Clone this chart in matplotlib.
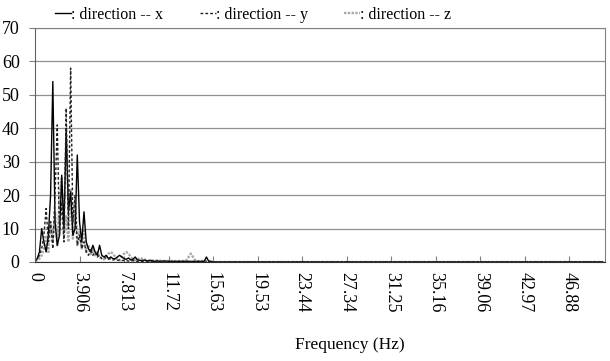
import matplotlib
matplotlib.use("Agg")
import matplotlib.pyplot as plt
import numpy as np

plt.rcParams['font.family'] = ['Liberation Serif', 'DejaVu Serif']

# frequency resolution (Hz per bin)
df = 50.0 / 256
n_bins = 256

# spectra (first bins; the rest are ~0)
amp_x = [0.5, 1, 3, 10, 6, 3, 8, 20, 54, 12, 5, 8, 26, 10, 40, 15, 21, 8, 10, 32,
         12, 6, 15, 6, 4, 3, 5, 3, 2, 5, 2, 1.5, 2, 1, 1.5, 1, 1, 1.5, 2, 1.5,
         1, 0.8, 1.2, 0.6, 0.8, 1.5, 0.6, 0.5, 0.4, 0.6, 0.4, 0.3, 0.5, 0.3, 0.2, 0.3, 0.2, 0.2, 0.3, 0.2,
         0.2, 0.2, 0.2, 0.2, 0.2, 0.2, 0.2, 0.2, 0.2, 0.2, 0.2, 0.2, 0.2, 0.2, 0.2, 0.2, 0.2, 1.5, 0.2, 0.2]
amp_y = [0.3, 0.8, 2, 4, 8, 16, 6, 12, 4, 20, 41, 8, 18, 6, 46, 10, 58, 12, 20, 5,
         8, 4, 6, 3, 2, 4, 2, 3, 1.5, 2, 1, 1.5, 1, 0.8, 1, 0.6, 0.8, 0.5, 0.6, 0.4,
         0.5, 0.4, 0.3, 0.3, 0.4, 0.3, 0.2, 0.3, 0.2, 0.2, 0.2, 0.2, 0.2, 0.2, 0.2, 0.2, 0.2, 0.2, 0.2, 0.2]
amp_z = [0.3, 0.5, 1, 2, 4, 8, 3, 12, 6, 15, 5, 18, 25, 8, 14, 6, 22, 7, 18, 5,
         9, 4, 10, 3, 5, 2, 4, 2, 3, 1.5, 1, 0.8, 1.5, 2.5, 3, 2.5, 1.5, 0.8, 0.5, 1.5,
         2.5, 3, 2.5, 1.5, 0.8, 0.5, 0.8, 1.2, 1, 0.8, 0.6, 0.5, 0.5, 0.4, 0.4, 0.5, 0.4, 0.3, 0.3, 0.3,
         0.3, 0.3, 0.3, 0.3, 0.3, 0.3, 0.3, 0.3, 0.5, 1.5, 2.5, 1.5, 0.5, 0.3, 0.3, 0.3, 0.3, 0.3, 0.3, 0.3]

tick_labels = ['0', '3.906', '7.813', '11.72', '15.63', '19.53', '23.44', '27.34',
               '31.25', '35.16', '39.06', '42.97', '46.88']

def full(a):
    out = np.zeros(n_bins)
    out[:len(a)] = a
    return out

freq = np.arange(n_bins) * df

fig = plt.figure(figsize=(6.10, 3.61), dpi=100)
ax = fig.add_axes([35/610, 1-262/361, (605-35)/610, (262-28)/361])

lz, = ax.plot(freq, full(amp_z), color='#a8a8a8', lw=1.7, ls=(0, (1, 0.6)), label=': direction -- z')
lx, = ax.plot(freq, full(amp_x), color='black', lw=1.0, label=': direction -- x')
ly, = ax.plot(freq, full(amp_y), color='#202020', lw=1.0, ls=(0, (2, 1.5)), label=': direction -- y')

ax.set_xlim(0, n_bins * df)
ax.set_ylim(0, 70)
ax.set_yticks(np.arange(0, 71, 10))
ax.set_xticks(np.arange(len(tick_labels)) * 20 * df)
ax.set_xticklabels(tick_labels, rotation=270, fontsize=13)
ax.tick_params(axis='y', labelsize=13, direction='out', length=4, color='#808080', pad=7)
ax.tick_params(axis='x', direction='in', length=4, color='#808080', pad=7)
ax.grid(axis='y', color='#909090', lw=0.9)
ax.set_axisbelow(True)
for s in ['top', 'right']:
    ax.spines[s].set_color('#808080')
ax.spines['left'].set_color('#606060')
ax.spines['bottom'].set_color('#303030')

fig.text(350/610, 1-345/361, 'Frequency (Hz)', ha='center', va='center', fontsize=12.5)

leg = fig.legend(handles=[lx, ly, lz], loc='center left', bbox_to_anchor=(55/610, 1-15/361),
                 ncol=3, frameon=False, fontsize=11.5, handlelength=1.0, handletextpad=0.0,
                 columnspacing=2.3, borderpad=0, borderaxespad=0)

fig.savefig('out.png', dpi=100)
